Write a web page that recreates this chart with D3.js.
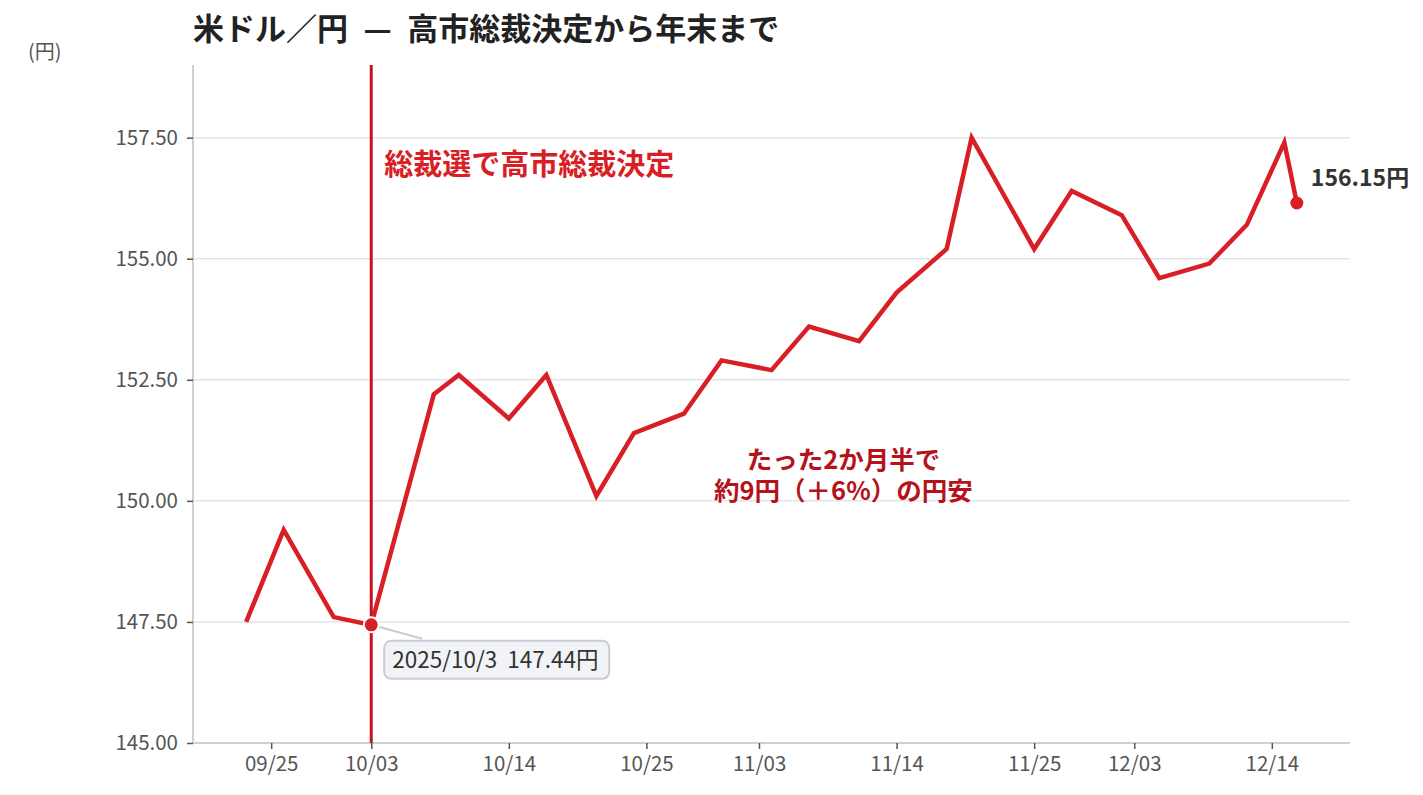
<!DOCTYPE html>
<html>
<head>
<meta charset="utf-8">
<script src="https://cdn.jsdelivr.net/npm/d3@7"></script>
<style>
  body { margin: 0; background: #fff; }
  svg, svg text { font-family: "Noto Sans CJK JP", "Noto Sans", sans-serif; }
</style>
</head>
<body>
<svg id="chart" width="1423" height="795"></svg>
<script>
// USD/JPY closes, Sep 23 - Dec 16 2025
const dates = [
  "2025-09-23", "2025-09-26", "2025-09-30", "2025-10-03", "2025-10-08",
  "2025-10-10", "2025-10-14", "2025-10-17", "2025-10-21", "2025-10-24",
  "2025-10-28", "2025-10-31", "2025-11-04", "2025-11-07", "2025-11-11",
  "2025-11-14", "2025-11-18", "2025-11-20", "2025-11-25", "2025-11-28",
  "2025-12-02", "2025-12-05", "2025-12-09", "2025-12-12", "2025-12-15",
  "2025-12-16"
];
const rates = [
  147.5, 149.4, 147.6, 147.44, 152.2,
  152.6, 151.7, 152.6, 150.1, 151.4,
  151.8, 152.9, 152.7, 153.6, 153.3,
  154.3, 155.2, 157.5, 155.2, 156.4,
  155.9, 154.6, 154.9, 155.7, 157.4,
  156.15
];
const xTickDates = ["2025-09-25", "2025-10-03", "2025-10-14", "2025-10-25", "2025-11-03",
  "2025-11-14", "2025-11-25", "2025-12-03", "2025-12-14"];
const yTicks = [145, 147.5, 150, 152.5, 155, 157.5];
const eventDate = "2025-10-03";

const parse = d3.timeParse("%Y-%m-%d");
const data = dates.map((d, i) => ({ date: parse(d), value: rates[i] }));

const svg = d3.select("#chart");
const margin = { top: 65, right: 73, bottom: 52, left: 193 };
const W = 1423, H = 795;
const innerW = W - margin.left - margin.right;
const innerH = H - margin.top - margin.bottom;

const x = d3.scaleTime()
  .domain([new Date(2025, 8, 18, 18), new Date(2025, 11, 20, 6)])
  .range([0, innerW]);
const y = d3.scaleLinear().domain([145, 159]).range([innerH, 0]);

const g = svg.append("g").attr("transform", `translate(${margin.left},${margin.top})`);

// gridlines
g.append("g").selectAll("line")
  .data(yTicks.filter(v => v > 145))
  .join("line")
  .attr("x1", 0).attr("x2", innerW)
  .attr("y1", d => y(d)).attr("y2", d => y(d))
  .attr("stroke", "#e3e4ea").attr("stroke-width", 1.5);

// axes
const yAxis = g.append("g")
  .call(d3.axisLeft(y).tickValues(yTicks).tickFormat(d3.format(".2f")).tickSize(6).tickPadding(9));
const xAxis = g.append("g")
  .attr("transform", `translate(0,${innerH})`)
  .call(d3.axisBottom(x).tickValues(xTickDates.map(parse)).tickFormat(d3.timeFormat("%m/%d")).tickSize(6).tickPadding(7));

[yAxis, xAxis].forEach(a => {
  a.attr("font-family", null).attr("font-size", null);
  a.select(".domain").attr("stroke", "#cdd0d8").attr("stroke-width", 2);
  a.selectAll(".tick line").attr("stroke", "#555").attr("stroke-width", 1.5);
  a.selectAll(".tick text").attr("fill", "#555").style("font-size", "20.5px");
});
yAxis.select(".domain").attr("d", `M0,0V${innerH}`);
xAxis.select(".domain").attr("d", `M0,0H${innerW}`);

// event line
const ex = x(parse(eventDate));
g.append("line")
  .attr("x1", ex).attr("x2", ex).attr("y1", 0).attr("y2", innerH)
  .attr("stroke", "#c8101e").attr("stroke-width", 3);

// series line
const line = d3.line().x(d => x(d.date)).y(d => y(d.value));
g.append("path")
  .datum(data)
  .attr("d", line)
  .attr("fill", "none")
  .attr("stroke", "#d81f26")
  .attr("stroke-width", 4.5)
  .attr("stroke-linejoin", "miter");

// start marker + tooltip
const start = data.find(d => +d.date === +parse(eventDate));
const sx = x(start.date), sy = y(start.value);
g.append("line")
  .attr("x1", sx).attr("y1", sy).attr("x2", sx + 51).attr("y2", sy + 14)
  .attr("stroke", "#c8ccd4").attr("stroke-width", 2);
g.append("circle").attr("cx", sx).attr("cy", sy).attr("r", 7.5)
  .attr("fill", "#d81f26").attr("stroke", "#fff").attr("stroke-width", 2);
const tip = g.append("g").attr("transform", `translate(${sx + 13},${sy + 16})`);
tip.append("rect").attr("width", 225).attr("height", 38).attr("rx", 7)
  .attr("fill", "#f1f3f7").attr("stroke", "#c8ccd4").attr("stroke-width", 2);
tip.append("text").attr("x", 8).attr("y", 27)
  .attr("fill", "#333").style("font-size", "22.5px")
  .text("2025/10/3\u00a0 147.44円");

// end marker + label
const last = data[data.length - 1];
g.append("circle").attr("cx", x(last.date)).attr("cy", y(last.value)).attr("r", 6.5)
  .attr("fill", "#d81f26");
g.append("text")
  .attr("x", x(last.date) + 14).attr("y", y(last.value) - 17)
  .attr("fill", "#333").style("font-size", "23px").style("font-weight", "bold")
  .text("156.15円");

// annotations
g.append("text")
  .attr("x", ex + 13).attr("y", 110)
  .attr("fill", "#d81f26").style("font-size", "29px").style("font-weight", "bold")
  .text("総裁選で高市総裁決定");
const noteX = x(new Date(2025, 10, 9, 18));
const noteLines = ["たった2か月半で", "約9円（＋6%）の円安"];
g.append("g").selectAll("text")
  .data(noteLines)
  .join("text")
  .attr("x", noteX).attr("y", (d, i) => 404 + i * 31)
  .attr("text-anchor", "middle")
  .attr("fill", "#b5121b").style("font-size", "25.5px").style("font-weight", "bold")
  .text(d => d);

// title and unit
svg.append("text")
  .attr("x", 193).attr("y", 40)
  .attr("fill", "#222").style("font-size", "31px").style("font-weight", "bold")
  .text("米ドル／円\u2002\u2014\u2002高市総裁決定から年末まで");
svg.append("text")
  .attr("x", 28).attr("y", 59)
  .attr("fill", "#555").style("font-size", "20px")
  .text("(円)");
</script>
</body>
</html>
